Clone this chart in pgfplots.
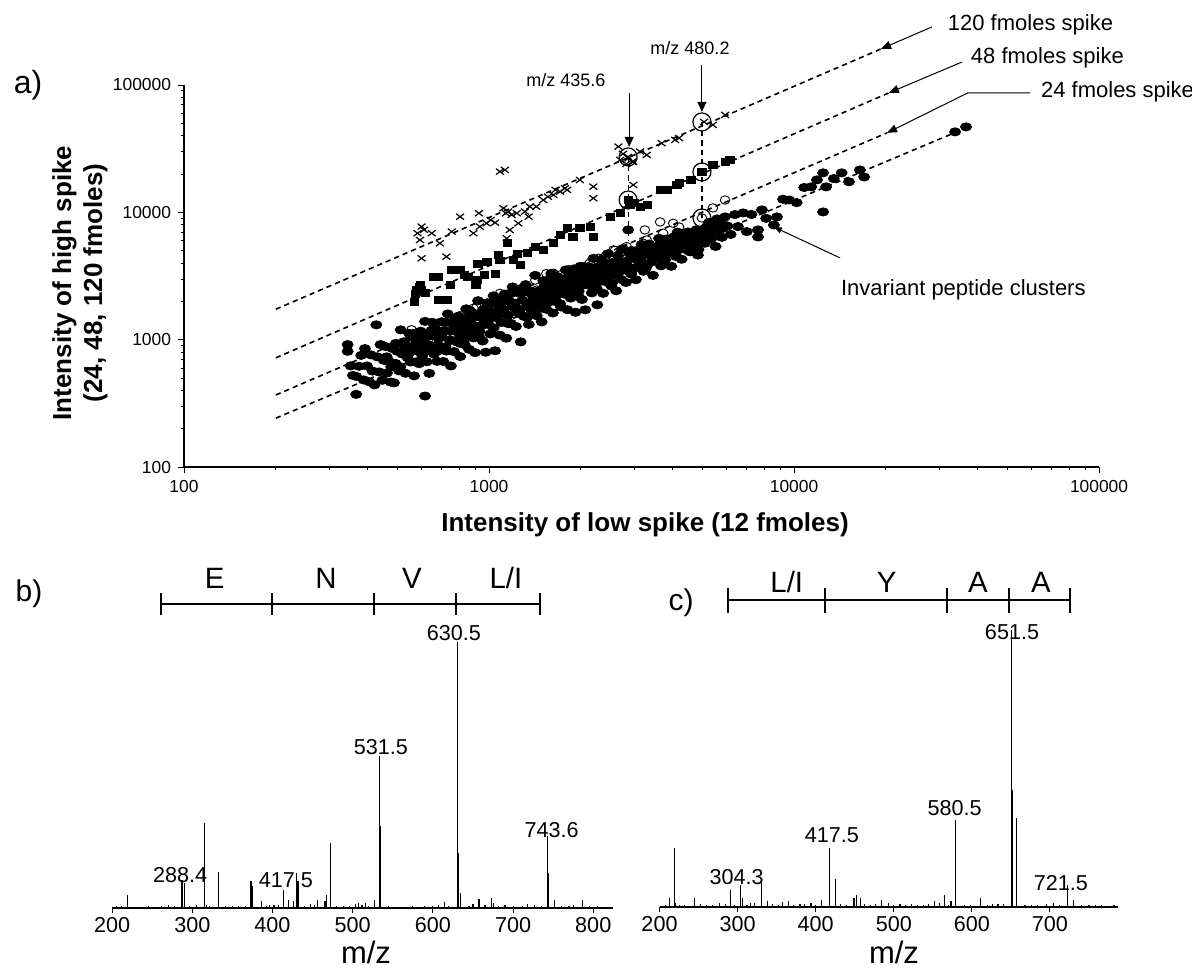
\documentclass[border=0pt]{standalone}
\usepackage{fontspec}
\setmainfont{Liberation Sans}
\usepackage{pgfplots}
\pgfplotsset{compat=1.18}
\usetikzlibrary{arrows.meta}
\begin{document}
\begin{tikzpicture}
\useasboundingbox (0,0) rectangle (596pt,-485.5pt);

% ---------- panel a ----------
\begin{axis}[
  at={(92pt,-233.5pt)}, anchor=south west,
  scale only axis, width=457.5pt, height=191pt,
  xmode=log, ymode=log,
  xmin=100, xmax=100000, ymin=100, ymax=100000,
  axis x line=bottom, axis y line=left,
  axis line style={-, line width=0.6pt},
  xtick={100,1000,10000,100000}, xticklabels={100,1000,10000,100000},
  ytick={100,1000,10000,100000}, yticklabels={100,1000,10000,100000},
  tick align=outside, major tick length=3pt, minor tick length=1.5pt,
  tick style={black, line width=0.4pt},
  ticklabel style={font=\fontsize{8.7}{10}\selectfont},
  clip=false,
]
% invariant peptides
\addplot[only marks, mark=*, mark size=2.05pt, mark options={xscale=1.35, black}] coordinates {
(344,915)(344,810)(352,623)(358,524)(367,515)(367,372)(375,618)(381,753)(388,483)(392,851)(398,622)(404,468)(410,760)(415,567)(421,442)(427,1308)(430,734)(436,558)(441,915)(447,480)(452,689)(458,883)(463,548)(470,677)(476,465)(482,853)(488,458)(494,651)(500,811)(507,569)(513,1195)(519,773)
(526,963)(532,545)(540,725)(547,1121)(553,668)(560,888)(568,520)(575,1010)(582,817)(590,648)(597,1165)(604,752)(611,947)(617,1392)(617,361)(625,671)(632,1064)(637,544)(645,881)(652,1368)(660,773)(668,1206)(676,676)(684,1018)(692,886)(700,1383)(708,674)(716,1171)(725,814)(733,1592)(742,996)(750,622)(760,1344)(768,806)(777,1185)(786,959)(795,1532)(805,737)(814,1172)(823,1365)(832,914)(842,1746)(851,1100)(861,840)(870,1358)(880,1632)(890,1032)(900,791)(910,1277)(921,2023)(931,1159)(942,1609)(953,977)(963,1433)(975,797)(986,1949)(997,1314)
(1010,1109)(1022,1658)(1035,2210)(1047,818)(1060,1487)(1072,1936)(1085,1085)(1098,1366)(1112,1709)(1125,2279)(1139,1028)(1153,1547)(1167,1993)(1181,1340)(1195,2595)(1210,1771)(1225,1270)(1240,2345)(1255,1608)(1270,961)(1286,2040)(1302,1525)(1318,2701)(1334,1823)(1350,1318)(1366,2417)(1383,1687)(1400,2084)(1417,3198)(1434,1540)(1452,2409)(1470,1937)(1488,1380)(1506,2903)(1524,2194)(1543,1732)(1562,2706)(1581,1986)(1600,3318)(1620,1621)(1640,2501)(1660,1985)(1680,3116)(1700,2323)(1721,1806)(1742,2933)(1764,2281)(1785,3528)(1807,1720)(1830,2679)(1852,2124)(1875,3340)(1898,2547)(1921,1641)(1945,3132)(1969,2402)(1993,3769)(2018,2068)(2043,2941)(2068,1716)(2094,3577)(2120,2690)(2146,3299)(2172,2332)(2199,4346)(2226,3042)(2254,2530)(2265,1879)(2282,3758)(2310,2874)(2339,4223)(2368,2311)(2397,3568)(2427,2843)(2457,4736)(2487,3337)(2518,2642)(2549,4043)(2580,3305)(2612,2422)(2645,4582)(2677,3756)(2710,2975)(2744,5189)(2778,4067)(2812,2813)(2847,3751)(2882,4782)(2918,3346)(2954,4505)(2990,3648)
(3030,2957)(3075,4877)(3120,3997)(3165,5599)(3210,3446)(3255,4686)(3300,3825)(3350,5640)(3400,4563)(3450,3199)(3500,5338)(3555,4337)(3610,6254)(3665,3800)(3720,5219)(3780,4243)(3840,6184)(3900,4996)(3960,3768)(4020,5983)(4085,4735)(4150,6987)(4215,5554)(4280,4282)(4350,6262)(4420,5392)(4490,7012)(4560,4895)(4635,6333)(4710,5516)(4785,7297)(4860,5099)(4940,6509)(5020,7349)(5100,5724)(5185,6642)(5270,8358)(5355,6206)(5440,7632)(5530,5397)(5620,6993)(5710,8499)(5800,6368)(5900,7918)(5940,9200)(4840,4620)
(6050,7814)(6200,6711)(6400,9604)(6550,7734)(6810,9890)(7000,7060)(7250,9631)(7620,7280)(7620,6410)(7850,10450)(8100,8967)(8590,7960)(8790,9200)(9200,12674)(9640,12500)(10200,11919)(10800,15675)(11380,15850)(11890,17990)(12450,20420)(12450,10070)(12740,15850)(13500,18414)(14320,20420)(15140,17380)(16440,21530)(16980,18970)(33730,42850)(36640,46880)(2860,7280)
(535,816)(556,1051)(578,670)(600,1025)(622,820)(648,1186)(672,902)(696,1146)(720,878)(746,1165)(772,1432)(800,1093)(827,989)(856,1483)(885,1274)(915,1518)(947,1294)(980,1555)(1016,1922)(1054,1543)(1092,1838)(1132,1588)(1174,2291)(1217,1931)(1262,1725)(1310,2365)(1358,1955)(1408,1804)(1460,2226)(1514,2586)(1570,2202)(1630,2984)(1690,2681)(1753,2524)(1818,3105)(1885,2875)(1956,2744)(2030,3344)(2105,3082)(2185,2879)(2266,3456)(2350,3211)(2440,3930)(2530,3643)(2625,3203)(2725,4056)(2830,3867)(2935,5013)(3045,4272)(3160,3932)(3280,5122)(3400,4065)(3530,4824)(3660,5715)(3800,4636)(3950,5542)(4100,4502)(4260,6496)(4420,5931)(4600,5612)(4780,6707)(4970,5942)(5170,7695)(5380,7089)(5600,8882)(5830,7469)
(462,733)(478,612)(495,936)(512,612)(530,892)(548,789)(566,1119)(585,914)(606,680)(628,919)(650,1126)(674,806)(698,1065)(724,1369)(750,988)(778,1253)(806,934)(836,1244)(866,1690)(898,1183)(930,1044)(964,1741)(1000,1464)(1036,1239)(1074,1703)(1113,2064)(1154,1338)(1196,1824)(1240,1664)(1285,2540)(1332,1495)(1380,2273)(1430,2007)(1482,1772)(1536,2436)(1592,3068)(1650,2174)(1710,1919)(1772,2703)(1836,2352)(1903,3599)(1972,2165)(2044,2743)(2118,3747)(2195,2544)(2275,3192)(2358,4028)(2444,3042)(2533,2781)(2625,4164)(2720,3484)(2820,4128)(2922,3280)(3030,4991)(3140,4214)(3254,3573)(3372,4937)(3495,4477)(3622,5214)(3754,4351)(3890,5221)(4031,6393)(4178,5097)(4330,5917)(4487,5036)(4650,6808)(4820,6174)(4995,7008)(5176,5999)(5365,7723)
};
% 24 fmoles spike
\addplot[only marks, mark=o, mark size=2.1pt, mark options={xscale=1.15, draw=black, fill=white, line width=0.45pt}] coordinates {
(557,1197)(631,1000)(708,1175)(793,1517)(818,1567)(832,1520)(855,1710)(889,1766)(912,1816)(955,1698)(1086,2312)(1125,1932)(1172,2312)(1259,2344)(1318,2692)(1419,2938)(1432,2455)(1542,3304)(1626,3327)(1679,2938)(1710,3221)(1820,3548)(1854,3119)(1986,3126)(2138,3981)(2291,4365)(2421,4592)(2588,5023)(2559,5070)(2692,4775)(2825,5383)(2985,4467)(3206,5715)(3289,6067)(3243,7278)(3639,8414)(3724,6855)(4018,8204)(4198,7674)(4989,9036)(5420,10840)(5943,12500)
};
% 48 fmoles spike
\addplot[only marks, mark=square*, mark size=1.7pt, mark options={xscale=1.2, black}] coordinates {
(568,1991)(577,2455)(575,2300)(590,2600)(600,2450)(596,2685)(617,2328)(659,3119)(681,3112)(681,2051)(728,2051)(745,2692)(753,3508)(804,3532)(832,3206)(853,3112)(906,2685)(914,2944)(920,3954)(968,3206)(984,4074)(1052,3304)(1072,4624)(1086,4198)(1146,5754)(1199,4227)(1242,4732)(1265,3864)(1334,4797)(1416,5346)(1503,5070)(1622,5754)(1710,6637)(1803,7534)(1884,6412)(1986,7534)(2143,7674)(2193,6412)(2495,9204)(2692,9886)(2858,12500)(2985,11860)(2897,11430)(3126,11010)(3296,11430)(3639,15000)(3837,15000)(4130,16410)(4198,17020)(4592,17990)(4989,20750)(5420,23550)(5943,24890)(6166,25820)
};
% 120 fmoles spike
\addplot[only marks, mark=x, mark size=2.8pt, mark options={yscale=0.75, black, line width=0.6pt}] coordinates {
(583,6855)(594,6067)(601,7727)(601,4355)(612,7300)(649,6855)(690,5715)(725,4487)(755,7063)(804,9247)(889,6855)(927,9840)(933,7727)(982,8204)(1012,8710)(1047,8300)(1086,20890)(1127,21530)(1114,10760)(1135,9840)(1156,10140)(1169,7278)(1143,6252)(1186,9550)(1233,9840)(1247,8204)(1312,10140)(1349,9247)(1361,11090)(1429,11090)(1507,12500)(1560,13270)(1626,13710)(1652,15000)(1710,14550)(1774,15450)(1803,15000)(1986,17950)(2198,15920)(2198,12910)(2655,32810)(2692,25820)(2864,26610)(2858,27230)(2972,25000)(2750,28800)(2950,25000)(2820,24000)(3126,29990)(3289,28250)(2972,16410)(3681,34910)(4074,37070)(4198,38370)(5070,51290)(5420,48640)(5943,58210)
};
% fitted lines
\addplot[black, line width=0.8pt, dash pattern=on 2.6pt off 2pt] coordinates {(200,1734)(19280,192000)};
\addplot[black, line width=0.8pt, dash pattern=on 2.6pt off 2pt] coordinates {(200,720)(20460,86700)};
\addplot[black, line width=0.8pt, dash pattern=on 2.6pt off 2pt] coordinates {(200,368)(20180,42100)};
\addplot[black, line width=0.8pt, dash pattern=on 2.6pt off 2pt] coordinates {(200,242)(36640,46000)};
% highlighted features
\addplot[black, line width=0.6pt, dash pattern=on 2.6pt off 2pt] coordinates {(2858,27230)(2858,6070)};
\addplot[black, line width=0.6pt, dash pattern=on 2.6pt off 2pt] coordinates {(4989,51290)(4989,9036)};
\addplot[only marks, mark=o, mark size=4.5pt, mark options={black, line width=0.6pt}] coordinates {(2858,27230)(2858,12500)(4989,51290)(4989,20750)(4989,9036)};
\draw[-{Triangle[length=5pt,width=4.5pt]}, line width=0.5pt] (4989,143900) -- (4989,61500);
\draw[-{Triangle[length=5pt,width=4.5pt]}, line width=0.5pt] (2880,86700) -- (2880,32700);
\node[font=\fontsize{9}{10}\selectfont] at (4560,195000) {m/z 480.2};
\node[font=\fontsize{9}{10}\selectfont] at (1786,109600) {m/z 435.6};
% series labels
\node[anchor=west, font=\fontsize{11}{13}\selectfont] at (30300,296000) {120 fmoles spike};
\node[anchor=west, font=\fontsize{11}{13}\selectfont] at (36060,163300) {48 fmoles spike};
\node[anchor=west, font=\fontsize{11}{13}\selectfont] at (61240,88300) {24 fmoles spike};
\node[anchor=west, font=\fontsize{11}{13}\selectfont] at (13520,2455) {Invariant peptide clusters};
\draw[-{Triangle[length=5pt,width=4pt]}, line width=0.5pt] (28310,285800) -- (19280,192000);
\draw[-{Triangle[length=5pt,width=4pt]}, line width=0.5pt] (35560,151700) -- (20460,86700);
\draw[-{Triangle[length=5pt,width=4pt]}, line width=0.5pt] (59430,86700) -- (37150,86700) -- (20180,42100);
\draw[-{Triangle[length=4pt,width=3pt]}, line width=0.5pt] (14160,4385) -- (8590,7674);
\end{axis}

% ---------- panel b ----------
\begin{axis}[
  at={(56.05pt,-454pt)}, anchor=south west,
  scale only axis, width=250.6pt, height=133pt,
  xmin=200, xmax=825, ymin=0, ymax=100,
  axis x line=bottom, axis y line=none,
  axis line style={-, line width=0.8pt},
  xtick={200,300,400,500,600,700,800}, xticklabels={200,300,400,500,600,700,800},
  tick align=outside, major tick length=2.5pt, tick style={black, line width=0.5pt},
  ticklabel style={font=\fontsize{10.8}{12}\selectfont},
  xticklabel style={yshift=1.5pt},
  clip=false,
]
\addplot[ycomb, black, line width=0.55pt, mark=none] coordinates {
(219.3,5.0)(287.2,10.7)(290.5,9.4)(314.8,32.0)(317.5,1.3)(332.5,13.4)(341.9,0.9)(373.2,10.0)(375.5,8.1)(386,2.5)(401.9,1.3)(413.7,6.9)(419.5,3.1)(425.7,2.5)(430.4,13.2)(431.8,10.0)(455.7,3.1)(465.5,2.5)(467.7,5.0)(472.6,24.4)(511.6,1.3)(516.5,1.9)(527.4,3.1)(533.2,57.0)(534.2,31.0)(614.3,2.1)(631.2,100)(632.4,20.7)(634.9,5.6)(657.5,3.4)(673.2,3.8)(675.6,1.9)(726.7,1.3)(743.4,26.9)(744.6,13.2)(751.5,3.1)(769.7,0.9)(786.4,3.1)
(205,0.6)(212,0.8)(230,0.5)(245,0.7)(262,0.9)(270,1.2)(278,0.8)(296,0.7)(305,1.0)(322,0.6)(350,0.9)(358,0.6)(366,0.8)(392,0.7)(396,1.3)(408,1.0)(440,0.9)(447,1.6)(452,1.0)(480,0.7)(488,0.6)(496,0.8)(503,1.4)(507,2.0)(520,0.9)(545,0.6)(560,0.5)(575,0.7)(590,0.6)(600,0.8)(607,1.2)(620,0.9)(645,0.8)(650,1.5)(665,1.0)(682,0.7)(690,1.1)(700,0.6)(712,0.8)(718,1.5)(735,0.9)(760,0.7)(775,1.2)(795,0.6)(805,0.8)(815,0.5)
};
\draw[line width=1.25pt] (261,114.3) -- (733.6,114.3);
\draw[line width=1pt] (261,110) -- (261,118.6);
\draw[line width=1pt] (399.4,110) -- (399.4,118.6);
\draw[line width=1pt] (526.5,110) -- (526.5,118.6);
\draw[line width=1pt] (628.8,110) -- (628.8,118.6);
\draw[line width=1pt] (733.6,110) -- (733.6,118.6);
\node[font=\fontsize{14.7}{16}\selectfont] at (328,124) {E};
\node[font=\fontsize{14.7}{16}\selectfont] at (466.7,124) {N};
\node[font=\fontsize{14.7}{16}\selectfont] at (574,124) {V};
\node[font=\fontsize{14.7}{16}\selectfont] at (691,124) {L/I};
\node[font=\fontsize{10.8}{12}\selectfont] at (626.3,103.4) {630.5};
\node[font=\fontsize{10.8}{12}\selectfont] at (535.3,60.6) {531.5};
\node[font=\fontsize{10.8}{12}\selectfont] at (748.1,29.3) {743.6};
\node[font=\fontsize{10.8}{12}\selectfont] at (284.7,12.4) {288.4};
\node[font=\fontsize{10.8}{12}\selectfont] at (416.8,10.5) {417.5};
\end{axis}

% ---------- panel c ----------
\begin{axis}[
  at={(329.75pt,-453.5pt)}, anchor=south west,
  scale only axis, width=229.2pt, height=138.5pt,
  xmin=200, xmax=787, ymin=0, ymax=100,
  axis x line=bottom, axis y line=none,
  axis line style={-, line width=0.8pt},
  xtick={200,300,400,500,600,700}, xticklabels={200,300,400,500,600,700},
  tick align=outside, major tick length=2.5pt, tick style={black, line width=0.5pt},
  ticklabel style={font=\fontsize{10.8}{12}\selectfont},
  xticklabel style={yshift=1.5pt},
  clip=false,
]
\addplot[ycomb, black, line width=0.55pt, mark=none] coordinates {
(213.2,3.2)(218.9,21.3)(220.5,1.4)(244.6,3.2)(277,1.4)(290.5,6.0)(304.1,8.1)(306,3.2)(321.9,1.4)(330.1,8.7)(337.9,2.3)(365.4,2.3)(379.9,1.2)(407.9,2.6)(417.5,21.3)(425.7,10.1)(449,3.2)(452.4,4.5)(457.2,3.2)(483.7,2.6)(493.5,1.4)(522.4,1.2)(552.4,2.0)(564.9,4.5)(573.2,2.0)(578.5,13.5)(579.4,31.3)(610.9,3.2)(633.5,1.2)(650.4,100)(651.6,42.4)(657.7,32.1)(695.4,1.2)(722,8.0)(730.2,2.6)(766.4,0.8)
(208,0.8)(226,0.6)(232,0.9)(252,1.0)(260,0.7)(268,0.9)(285,1.1)(296,0.8)(312,0.9)(316,1.5)(345,1.0)(352,0.7)(358,1.8)(372,0.9)(386,1.1)(394,1.5)(400,0.8)(432,1.0)(440,0.7)(462,1.1)(470,0.8)(477,1.2)(500,0.8)(508,1.0)(515,0.6)(530,0.9)(538,0.7)(545,1.0)(558,1.6)(570,0.8)(590,0.9)(598,0.6)(620,0.8)(626,1.2)(640,1.0)(668,0.9)(676,0.7)(684,0.8)(705,1.3)(712,0.6)(740,0.9)(750,0.6)(758,0.8)(775,0.5)(782,0.7)
};
\draw[line width=1.25pt] (287.7,110.8) -- (725.6,110.8);
\draw[line width=1pt] (287.7,106.3) -- (287.7,115.3);
\draw[line width=1pt] (411.9,106.3) -- (411.9,115.3);
\draw[line width=1pt] (568.1,106.3) -- (568.1,115.3);
\draw[line width=1pt] (647.5,106.3) -- (647.5,115.3);
\draw[line width=1pt] (725.6,106.3) -- (725.6,115.3);
\node[font=\fontsize{14.7}{16}\selectfont] at (363,117.3) {L/I};
\node[font=\fontsize{14.7}{16}\selectfont] at (491,117.3) {Y};
\node[font=\fontsize{14.7}{16}\selectfont] at (607.8,117.3) {A};
\node[font=\fontsize{14.7}{16}\selectfont] at (688.5,117.3) {A};
\node[font=\fontsize{10.8}{12}\selectfont] at (651.4,99.4) {651.5};
\node[font=\fontsize{10.8}{12}\selectfont] at (578,35.7) {580.5};
\node[font=\fontsize{10.8}{12}\selectfont] at (420.8,26) {417.5};
\node[font=\fontsize{10.8}{12}\selectfont] at (298.7,10.9) {304.3};
\node[font=\fontsize{10.8}{12}\selectfont] at (714,8.7) {721.5};
\end{axis}

% ---------- figure texts ----------
\begin{scope}[x=0.5pt, y=-0.5pt]
\node[font=\fontsize{16}{18}\selectfont] at (28,85) {a)};
\node[font=\fontsize{15}{17}\selectfont] at (29,594) {b)};
\node[font=\fontsize{15}{17}\selectfont] at (681,603) {c)};
\node[font=\bfseries\fontsize{13}{15}\selectfont] at (645,525) {Intensity of low spike (12 fmoles)};
\node[rotate=90, align=center, font=\bfseries\fontsize{13}{15.5}\selectfont] at (80,283) {Intensity of high spike\\(24, 48, 120 fmoles)};
\node[anchor=north, inner sep=0pt, font=\fontsize{15.5}{17}\selectfont] at (366,941) {m/z};
\node[anchor=north, inner sep=0pt, font=\fontsize{15.5}{17}\selectfont] at (894,941) {m/z};
\end{scope}
\end{tikzpicture}
\end{document}
